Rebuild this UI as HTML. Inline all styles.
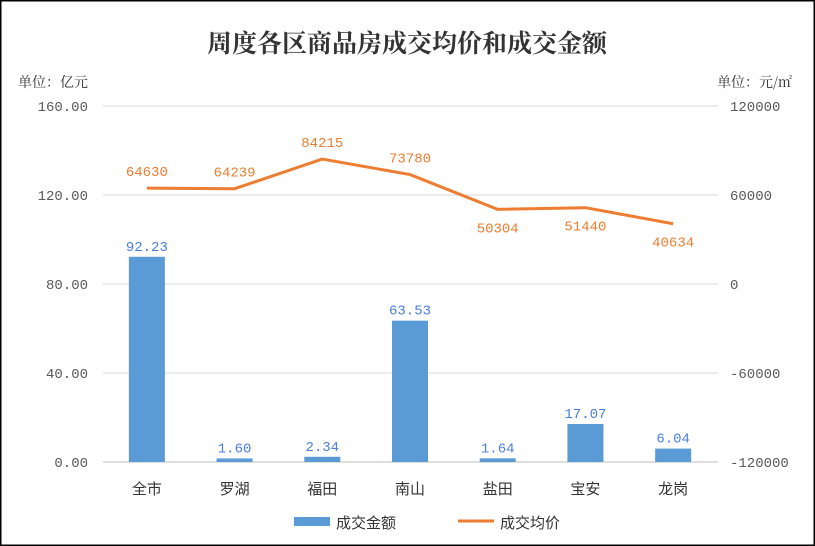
<!DOCTYPE html>
<html><head><meta charset="utf-8"><style>
html,body{margin:0;padding:0;background:#fff}
svg{display:block;font-family:"Liberation Sans","Noto Sans CJK SC",sans-serif}
.num{font-family:"Liberation Mono",monospace}
</style></head><body>
<svg id="c" width="815" height="546" viewBox="0 0 815 546">
<rect x="0.5" y="0.5" width="814" height="545" fill="#fff" stroke="#000" stroke-width="2"/>
<text x="407" y="52" text-anchor="middle" font-size="25" font-weight="bold" fill="#333" font-family="'Noto Serif CJK SC','Noto Sans CJK SC',serif">周度各区商品房成交均价和成交金额</text>
<text x="18" y="87" font-size="14" fill="#333" font-family="'Noto Serif CJK SC',serif">单位：亿元</text>
<text x="792" y="87" text-anchor="end" font-size="14" fill="#333" font-family="'Noto Serif CJK SC',serif">单位：元/㎡</text>
<g id="grid"></g><g id="bars"></g><g id="line"></g><g id="labels"></g>
<g>
<rect x="294" y="517" width="36" height="9" fill="#5b9bd5"/>
<text x="336" y="528" font-size="15" fill="#333">成交金额</text>
<line x1="458" y1="521" x2="494" y2="521" stroke="#ed7d31" stroke-width="3"/>
<text x="500" y="528" font-size="15" fill="#333">成交均价</text>
</g>
</svg>
<script>
const categories=["全市","罗湖","福田","南山","盐田","宝安","龙岗"];
const amounts=[92.23,1.60,2.34,63.53,1.64,17.07,6.04];
const prices=[64630,64239,84215,73780,50304,51440,40634];
const leftTicks=[0,40,80,120,160];
const rightTicks=[-120000,-60000,0,60000,120000];
const NS="http://www.w3.org/2000/svg";
const X0=103,X1=717,Y0=462,Y1=106;
const band=(X1-X0)/categories.length;
const xC=i=>X0+band*(i+0.5);
const yL=v=>Y0-(v-0)/(160-0)*(Y0-Y1);
const yR=v=>Y0-(v+120000)/240000*(Y0-Y1);
function mk(tag,attrs,parent,txt){const e=document.createElementNS(NS,tag);for(const k in attrs)e.setAttribute(k,attrs[k]);if(txt!==undefined)e.textContent=txt;document.getElementById(parent).appendChild(e);return e;}
leftTicks.forEach((t,i)=>{
 const y=yL(t);
 const g=mk("line",{x1:X0,x2:X1+1,y1:y,y2:y,stroke:i===0?"#bfbfbf":"#d9d9d9","stroke-width":1},"grid");
 
 
 const l=mk("text",{x:88,y:y+5,"text-anchor":"end","font-size":14,fill:"#595959",class:"num"},"grid",t.toFixed(2));
 
 
});
rightTicks.forEach(t=>{
 const r=mk("text",{x:730,y:yR(t)+5,"font-size":14,fill:"#595959",class:"num"},"grid",String(t));
 
 
});
const bw=36;
categories.forEach((c,i)=>{
 const x=xC(i),y=yL(amounts[i]);
 const b=mk("rect",{x:x-bw/2,y:y,width:bw,height:Y0-y,fill:"#5b9bd5"},"bars");
 
 
 const bl=mk("text",{x:x,y:y-6,"text-anchor":"middle","font-size":14,fill:"#4a7fe0",class:"num"},"labels",amounts[i].toFixed(2));
 
 
 const cl=mk("text",{x:x,y:494,"text-anchor":"middle","font-size":15,fill:"#333"},"labels",c);
 
 
});
const pts=prices.map((p,i)=>xC(i)+","+yR(p)).join(" ");
const pl=mk("polyline",{points:pts,fill:"none",stroke:"#ed7d31","stroke-width":3,"stroke-linejoin":"round"},"line");


const below=[false,false,false,false,true,true,true];
prices.forEach((p,i)=>{
 const y=yR(p);
 const t=mk("text",{x:xC(i),y:below[i]?y+23:y-12,"text-anchor":"middle","font-size":14,fill:"#ed7d31",class:"num"},"labels",String(p));
 
 
});
</script>
</body></html>
